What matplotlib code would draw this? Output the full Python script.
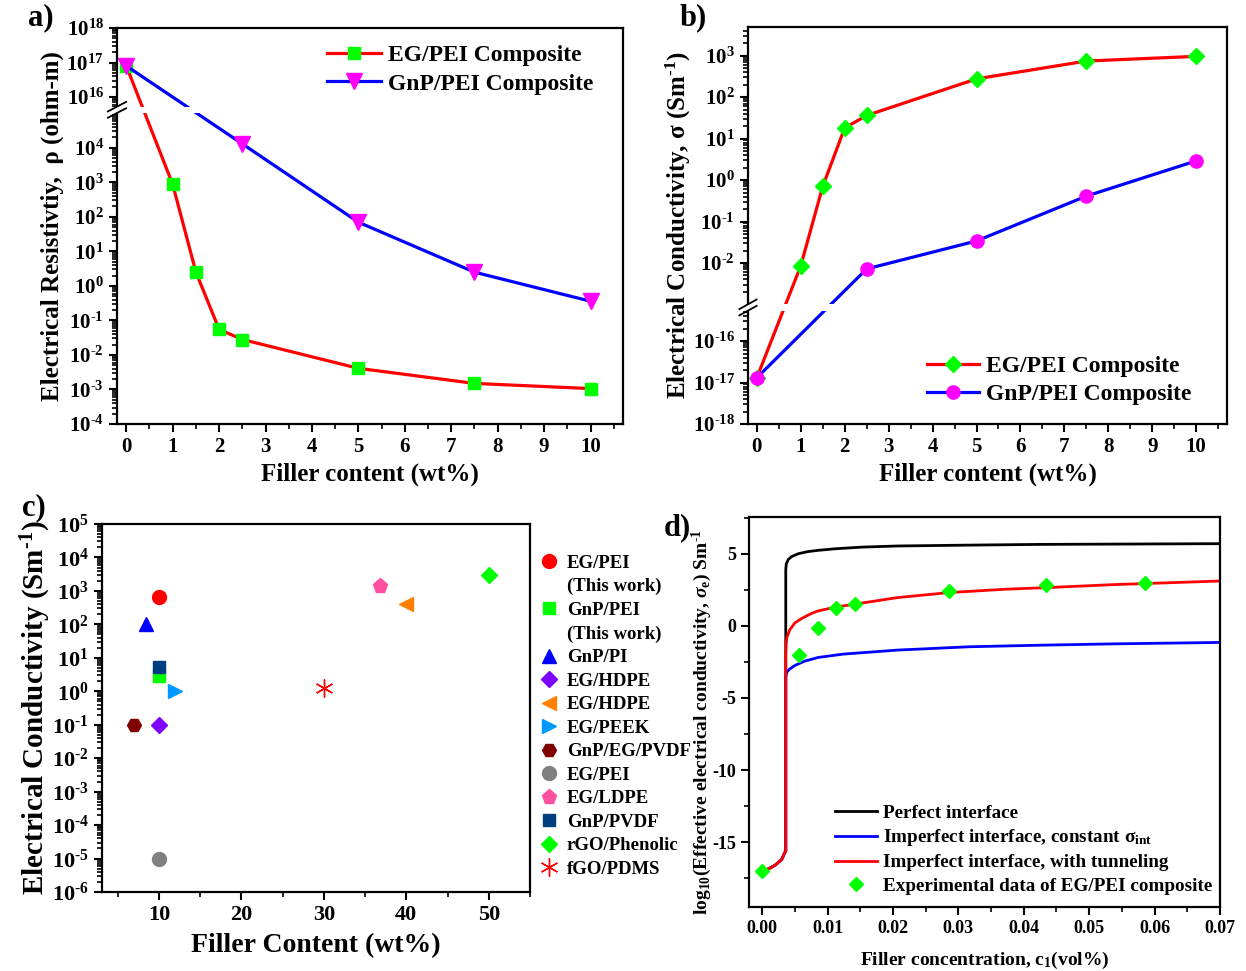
import numpy as np
import matplotlib
matplotlib.use("Agg")
import matplotlib.pyplot as plt
from matplotlib.ticker import FixedLocator, FuncFormatter, MultipleLocator, NullFormatter
from matplotlib.lines import Line2D
from matplotlib.patches import Rectangle

plt.rcParams['font.family'] = ['Liberation Serif', 'DejaVu Serif']
plt.rcParams['font.weight'] = 'bold'
plt.rcParams['axes.labelweight'] = 'bold'
plt.rcParams['mathtext.fontset'] = 'custom'
plt.rcParams['mathtext.rm'] = 'Liberation Serif:bold'
plt.rcParams['mathtext.bf'] = 'Liberation Serif:bold'
plt.rcParams['mathtext.it'] = 'Liberation Serif:italic:bold'
plt.rcParams['axes.linewidth'] = 1.6

# ---------------- data ----------------
# panel a: resistivity (ohm-m)
a_x_eg = [0, 1, 1.5, 2, 2.5, 5, 7.5, 10]
a_y_eg = [8e16, 8.7e2, 2.5, 0.055, 0.028, 0.0041, 0.0015, 0.00106]
a_x_gnp = [0, 2.5, 5, 7.5, 10]
a_y_gnp = [8e16, 1.3e4, 70, 2.5, 0.36]

# panel b: conductivity (S/m)
b_x_eg = [0, 1, 1.5, 2, 2.5, 5, 7.5, 10]
b_y_eg = [1.3e-17, 8.5e-3, 0.7, 18, 36, 275, 740, 960]
b_x_gnp = [0, 2.5, 5, 7.5, 10]
b_y_gnp = [1.3e-17, 7.2e-3, 0.034, 0.41, 2.9]

# panel c: literature comparison
c_labels = ['EG/PEI', 'GnP/PEI', 'GnP/PI', 'EG/HDPE', 'EG/HDPE', 'EG/PEEK',
            'GnP/EG/PVDF', 'EG/PEI', 'EG/LDPE', 'GnP/PVDF', 'rGO/Phenolic', 'fGO/PDMS']
c_x = [10, 10, 8.4, 10, 40, 11.9, 7.0, 10, 36.8, 10, 50, 30]
c_y = [650, 2.8, 100, 0.1, 410, 1.0, 0.1, 1e-5, 1400, 5.3, 2950, 1.23]
c_this_work = [True, True, False, False, False, False, False, False, False, False, False, False]

# panel d: model curves and experiment (log10 conductivity)
d_black_x = [0, 0.001, 0.002, 0.003, 0.0034, 0.00362, 0.00362, 0.0037, 0.0040, 0.0045,
             0.0055, 0.0070, 0.0086, 0.0113, 0.0152, 0.0207, 0.0317, 0.0427, 0.0536, 0.07]
d_black_y = [-17.0, -16.85, -16.6, -16.2, -15.8, -15.6, 3.9, 4.3, 4.6, 4.8,
             5.0, 5.15, 5.24, 5.35, 5.46, 5.54, 5.6, 5.65, 5.67, 5.7]
d_blue_x = [0, 0.001, 0.002, 0.003, 0.0034, 0.00362, 0.00362, 0.00368, 0.0038, 0.0042,
            0.0050, 0.0065, 0.0086, 0.0124, 0.0207, 0.0317, 0.0427, 0.0536, 0.07]
d_blue_y = [-17.0, -16.85, -16.6, -16.2, -15.8, -15.6, -3.6, -3.4, -3.2, -3.0,
            -2.75, -2.45, -2.19, -1.96, -1.68, -1.45, -1.34, -1.25, -1.15]
d_red_x = [0, 0.001, 0.002, 0.003, 0.0034, 0.00362, 0.00362, 0.00368, 0.0038, 0.0042,
           0.0050, 0.0060, 0.0075, 0.0086, 0.0113, 0.0141, 0.0207, 0.0286, 0.0372,
           0.0434, 0.0537, 0.07]
d_red_y = [-17.0, -16.85, -16.6, -16.2, -15.8, -15.6, -1.8, -1.2, -0.8, -0.3,
           0.2, 0.5, 0.85, 1.04, 1.31, 1.5, 1.96, 2.31, 2.54, 2.65, 2.86, 3.11]
d_exp_x = [0, 0.0056, 0.0085, 0.0113, 0.0142, 0.0286, 0.0434, 0.0586]
d_exp_y = [-17.0, -2.05, -0.16, 1.25, 1.52, 2.42, 2.81, 2.98]

# ---------------- helpers ----------------
W, H = 1246, 971
fig = plt.figure(figsize=(W / 100, H / 100), dpi=100)


def rect(l, r, t, b):
    return [l / W, 1 - b / H, (r - l) / W, (b - t) / H]


def make_broken(lo_end, hi_start, eps=1e-3):
    gap = hi_start - lo_end

    def fwd(y):
        L = np.log10(np.clip(np.asarray(y, float), 1e-300, None))
        return np.where(L <= lo_end, L,
                        np.where(L >= hi_start, L - gap + gap * eps,
                                 lo_end + (L - lo_end) * eps))

    def inv(t):
        t = np.asarray(t, float)
        hi_t = lo_end + gap * eps
        L = np.where(t <= lo_end, t,
                     np.where(t >= hi_t, t + gap - gap * eps,
                              lo_end + (t - lo_end) / eps))
        return 10.0 ** np.clip(L, -300, 300)
    return fwd, inv


def pow_fmt(v, pos):
    e = int(round(np.log10(v)))
    if e < 0:
        return r'$10^{\text{-}%d}$' % (-e)
    return r'$10^{%d}$' % e


def log_minor(segments):
    minor = []
    for lo, hi in segments:
        for e in range(int(np.floor(lo)) - 1, int(np.ceil(hi)) + 1):
            for m in range(2, 10):
                v = np.log10(m) + e
                if lo < v < hi:
                    minor.append(10.0 ** v)
    return minor


def style_axes(ax, tsize):
    ax.tick_params(which='major', direction='out', length=6, width=1.5, labelsize=tsize)
    ax.tick_params(which='minor', direction='out', length=3.5, width=1.2)
    for s in ax.spines.values():
        s.set_linewidth(1.6)


def add_break(ax, value):
    yt = ax.transData.transform((0, value))[1]
    f = ax.transAxes.inverted().transform((0, yt))[1]
    ax.add_patch(Rectangle((0.004, f - 0.008), 0.992, 0.016, transform=ax.transAxes,
                           facecolor='white', edgecolor='none', zorder=2.2))
    ax.add_patch(Rectangle((-0.01, f - 0.007), 0.02, 0.014, transform=ax.transAxes,
                           facecolor='white', edgecolor='none', zorder=3, clip_on=False))
    for dy in (-0.008, 0.008):
        ax.plot([-0.018, 0.018], [f + dy - 0.012, f + dy + 0.012], transform=ax.transAxes,
                color='black', lw=1.3, clip_on=False, zorder=4)


# ---------------- panel a ----------------
axa = fig.add_axes(rect(117, 623, 28, 424))
fa, ia = make_broken(5.1, 15.64)
axa.set_yscale('function', functions=(fa, ia))
axa.plot(a_x_eg, a_y_eg, color='#ff0000', lw=2.3, marker='s', ms=9,
         mfc='#00ff00', mec='#00ff00', label='EG/PEI Composite', zorder=2)
axa.plot(a_x_gnp, a_y_gnp, color='#0000ff', lw=2.3, marker='v', ms=11,
         mfc='#ff00ff', mec='#ff00ff', label='GnP/PEI Composite', zorder=2)
axa.set_xlim(-0.2, 10.7)
axa.set_ylim(1e-4, 1e18)
axa.yaxis.set_major_locator(FixedLocator([10.0 ** e for e in list(range(-4, 5)) + [16, 17, 18]]))
axa.yaxis.set_minor_locator(FixedLocator(log_minor([(-4, 5.1), (15.64, 18)])))
axa.yaxis.set_major_formatter(FuncFormatter(pow_fmt))
axa.yaxis.set_minor_formatter(NullFormatter())
axa.xaxis.set_major_locator(MultipleLocator(1))
axa.xaxis.set_minor_locator(MultipleLocator(0.5))
style_axes(axa, 15)
axa.set_xlabel('Filler content (wt%)', fontsize=18, labelpad=4)
axa.set_ylabel('Electrical Resistivtiy,  \u03c1 (ohm-m)', fontsize=18, labelpad=2)
axa.legend(loc='upper right', fontsize=17, frameon=False, handlelength=2.3,
           bbox_to_anchor=(0.975, 1.0), borderaxespad=0.3, labelspacing=0.3,
           handletextpad=0.3)
add_break(axa, 10 ** 5.1)
fig.text(28 / W, 1 - 18 / H, 'a)', fontsize=22, fontweight='bold', va='center', ha='left')

# ---------------- panel b ----------------
axb = fig.add_axes(rect(748, 1227, 27, 424))
fb, ib = make_broken(-15.19, -3.06)
axb.set_yscale('function', functions=(fb, ib))
axb.plot(b_x_eg, b_y_eg, color='#ff0000', lw=2.3, marker='D', ms=8,
         mfc='#00ff00', mec='#00ff00', label='EG/PEI Composite', zorder=2)
axb.plot(b_x_gnp, b_y_gnp, color='#0000ff', lw=2.3, marker='o', ms=9.5,
         mfc='#ff00ff', mec='#ff00ff', label='GnP/PEI Composite', zorder=2)
axb.set_xlim(-0.2, 10.7)
axb.set_ylim(1e-18, 10 ** 3.69)
axb.yaxis.set_major_locator(FixedLocator([10.0 ** e for e in [-18, -17, -16, -2, -1, 0, 1, 2, 3]]))
axb.yaxis.set_minor_locator(FixedLocator(log_minor([(-18, -15.19), (-3.06, 3.69)])))
axb.yaxis.set_major_formatter(FuncFormatter(pow_fmt))
axb.yaxis.set_minor_formatter(NullFormatter())
axb.xaxis.set_major_locator(MultipleLocator(1))
axb.xaxis.set_minor_locator(MultipleLocator(0.5))
style_axes(axb, 15)
axb.set_xlabel('Filler content (wt%)', fontsize=18, labelpad=4)
axb.set_ylabel('Electrical Conductivity, \u03c3 (Sm$^{\\text{-}1}$)', fontsize=18, labelpad=0)
axb.legend(loc='lower right', fontsize=17, frameon=False, handlelength=2.2,
           bbox_to_anchor=(0.96, 0.005), borderaxespad=0.3, labelspacing=0.3,
           handletextpad=0.3)
add_break(axb, 10 ** -15.19)
fig.text(680 / W, 1 - 18 / H, 'b)', fontsize=22, fontweight='bold', va='center', ha='left')

# ---------------- panel c ----------------
axc = fig.add_axes(rect(102, 530, 524, 892))
c_styles = [('o', '#ff0000', 10), ('s', '#00ff00', 9), ('^', '#0000ff', 10),
            ('D', '#8000ff', 8), ('<', '#ff8000', 10), ('>', '#0099ff', 10),
            ('H', '#800000', 10), ('o', '#808080', 10), ('p', '#ff4fa0', 11),
            ('s', '#003f7f', 9), ('D', '#00ff00', 8.5), ('*', '#ff0000', 12)]
handles, labels = [], []
for i, (lab, xv, yv) in enumerate(zip(c_labels, c_x, c_y)):
    mk, col, ms = c_styles[i]
    if lab == 'fGO/PDMS':
        axc.plot([xv], [yv], linestyle='none', marker=(6, 2, 0), ms=13, mec=col, mew=1.0)
        h = Line2D([], [], linestyle='none', marker=(6, 2, 0), ms=13, mec=col, mew=1.0)
    else:
        axc.plot([xv], [yv], linestyle='none', marker=mk, ms=ms, mfc=col, mec=col)
        h = Line2D([], [], linestyle='none', marker=mk, ms=ms, mfc=col, mec=col)
    handles.append(h)
    labels.append(lab)
    if c_this_work[i]:
        handles.append(Line2D([], [], linestyle='none'))
        labels.append('(This work)')
axc.set_yscale('log')
axc.set_xlim(3.1, 55)
axc.set_ylim(1e-6, 1e5)
axc.yaxis.set_major_locator(FixedLocator([10.0 ** e for e in range(-6, 6)]))
axc.yaxis.set_minor_locator(FixedLocator(log_minor([(-6, 5)])))
axc.yaxis.set_major_formatter(FuncFormatter(pow_fmt))
axc.yaxis.set_minor_formatter(NullFormatter())
axc.xaxis.set_major_locator(MultipleLocator(10))
axc.xaxis.set_minor_locator(MultipleLocator(5))
style_axes(axc, 16)
axc.set_xlabel('Filler Content (wt%)', fontsize=20, labelpad=6)
axc.set_ylabel('Electrical Conductivity (Sm$^{\\text{-}1}$)', fontsize=21, labelpad=-1)
axc.legend(handles, labels, loc='upper left', bbox_to_anchor=(1.005, 0.937),
           frameon=False, fontsize=13.5, labelspacing=0.34, handletextpad=0.45,
           handlelength=1.0, borderaxespad=0)
fig.text(22 / W, 1 - 508 / H, 'c)', fontsize=22, fontweight='bold', va='center', ha='left')

# ---------------- panel d ----------------
axd = fig.add_axes(rect(749, 1220, 517, 907))
axd.plot(d_black_x, d_black_y, color='black', lw=2.0, label='Perfect interface')
axd.plot(d_blue_x, d_blue_y, color='#0000ff', lw=2.0,
         label=r'Imperfect interface, constant $\mathbf{\sigma}_{\mathrm{int}}$')
axd.plot(d_red_x, d_red_y, color='#ff0000', lw=2.0, label='Imperfect interface, with tunneling')
axd.plot(d_exp_x, d_exp_y, linestyle='none', marker='D', ms=7.5, mfc='#00ff00', mec='#00ff00',
         label='Experimental data of EG/PEI composite')
axd.set_xlim(-0.002, 0.07)
axd.set_ylim(-19.5, 7.55)
axd.xaxis.set_major_locator(MultipleLocator(0.01))
axd.xaxis.set_minor_locator(MultipleLocator(0.005))
axd.xaxis.set_major_formatter(FuncFormatter(lambda v, p: '%.2f' % v))
axd.yaxis.set_major_locator(MultipleLocator(5))
axd.yaxis.set_minor_locator(MultipleLocator(2.5))
axd.yaxis.set_major_formatter(FuncFormatter(lambda v, p: '%d' % round(v)))
style_axes(axd, 13)
axd.set_xlabel('Filler concentration, c$_1$(vol%)', fontsize=14, labelpad=9)
axd.set_ylabel(r'log$_{10}$(Effective electrical conductivity, $\sigma_{\mathrm{e}}$) Sm$^{\text{-}1}$',
               fontsize=14)
axd.yaxis.set_label_coords(-0.074, 0.475)
axd.legend(loc='lower right', frameon=False, fontsize=13.8, handlelength=2.2,
           handletextpad=0.3, labelspacing=0.3, borderaxespad=0.0,
           bbox_to_anchor=(1.0, 0.012))
fig.text(664 / W, 1 - 528 / H, 'd)', fontsize=22, fontweight='bold', va='center', ha='left')

fig.savefig('out.png', dpi=100)
